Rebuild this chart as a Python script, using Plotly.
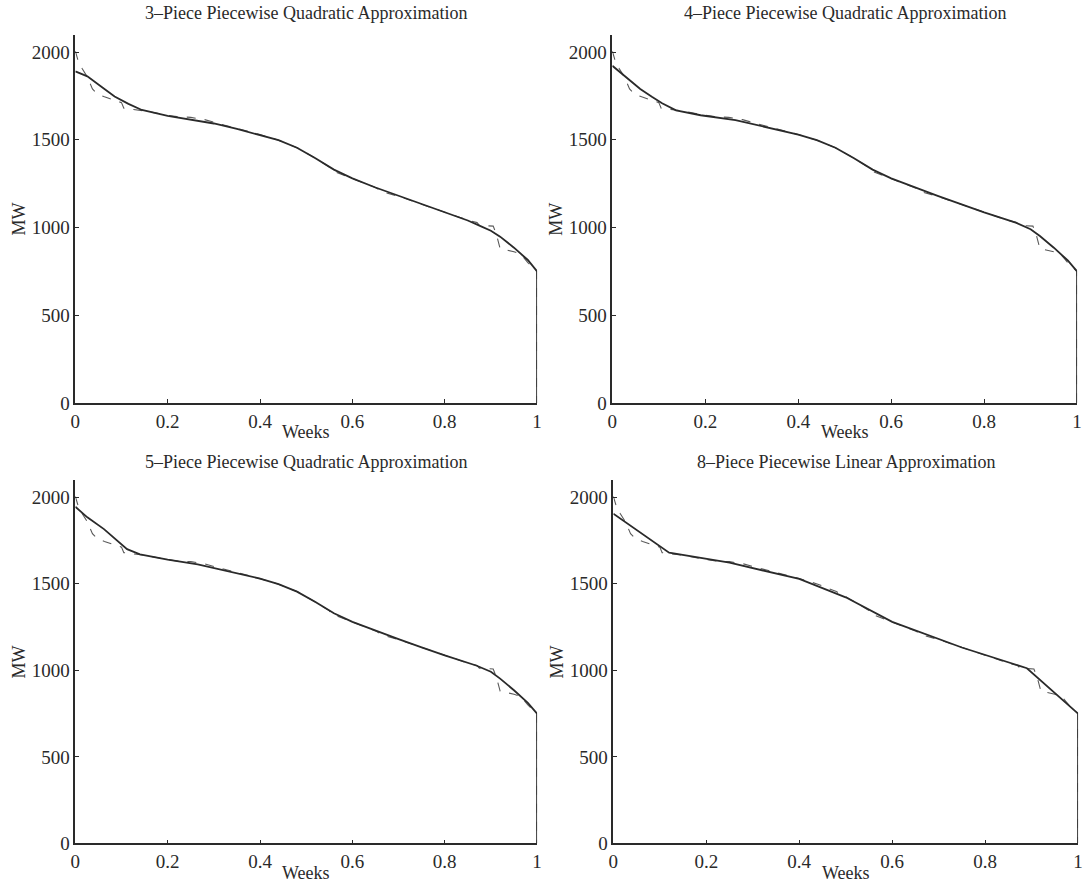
import plotly.graph_objects as go

# ---- data -------------------------------------------------------------
# actual load duration curve (dashed), x in weeks, y in MW
ldc_x = [0, 0.005, 0.015, 0.026, 0.037, 0.047, 0.063, 0.084, 0.1, 0.105, 0.12, 0.15,
         0.2, 0.22, 0.25, 0.28, 0.3, 0.35, 0.4, 0.44, 0.48, 0.52, 0.55, 0.555,
         0.6, 0.65, 0.66, 0.67, 0.7, 0.75, 0.8, 0.85, 0.87, 0.875, 0.905, 0.912,
         0.92, 0.95, 0.965, 0.98, 1.0, 1.0]
ldc_y = [2005, 1960, 1905, 1858, 1790, 1762, 1745, 1725, 1712, 1680, 1676, 1665,
         1640, 1632, 1628, 1615, 1600, 1566, 1530, 1498, 1455, 1395, 1345, 1325,
         1280, 1228, 1212, 1200, 1178, 1132, 1086, 1042, 1028, 1012, 1008, 960,
         880, 862, 848, 800, 750, 0]

# 3-piece piecewise quadratic approximation
q3_x = [0, 0.026, 0.055, 0.085, 0.115, 0.144, 0.2, 0.25, 0.3, 0.35, 0.4, 0.44, 0.48, 0.52,
        0.56, 0.6, 0.65, 0.7, 0.75, 0.8, 0.85, 0.88, 0.9, 0.92, 0.95, 0.98, 1.0, 1.0]
q3_y = [1890, 1862, 1805, 1747, 1705, 1670, 1636, 1615, 1593, 1562, 1528, 1498, 1455, 1395,
        1330, 1280, 1228, 1180, 1133, 1086, 1040, 1005, 982, 948, 885, 815, 750, 0]

# 4-piece piecewise quadratic approximation
q4_x = [0, 0.03, 0.06, 0.085, 0.107, 0.137, 0.19, 0.265, 0.35, 0.4, 0.44, 0.48, 0.52,
        0.56, 0.6, 0.65, 0.7, 0.75, 0.8, 0.868, 0.9, 0.92, 0.95, 0.98, 1.0, 1.0]
q4_y = [1922, 1858, 1790, 1745, 1708, 1668, 1640, 1612, 1562, 1530, 1498, 1455, 1395,
        1330, 1280, 1228, 1180, 1133, 1086, 1028, 990, 952, 885, 812, 750, 0]

# 5-piece piecewise quadratic approximation
q5_x = [0, 0.026, 0.062, 0.09, 0.112, 0.14, 0.2, 0.265, 0.35, 0.4, 0.44, 0.48, 0.52,
        0.56, 0.6, 0.65, 0.7, 0.75, 0.8, 0.868, 0.9, 0.92, 0.95, 0.98, 1.0, 1.0]
q5_y = [1945, 1884, 1816, 1750, 1700, 1670, 1640, 1612, 1562, 1530, 1498, 1455, 1395,
        1330, 1280, 1228, 1180, 1133, 1086, 1028, 992, 952, 885, 812, 750, 0]

# 8-piece piecewise linear approximation (knots)
l8_x = [0, 0.12, 0.25, 0.4, 0.5, 0.6, 0.75, 0.89, 1.0, 1.0]
l8_y = [1905, 1680, 1622, 1528, 1422, 1280, 1132, 1012, 750, 0]

titles = ["3\u2013Piece Piecewise Quadratic Approximation",
          "4\u2013Piece Piecewise Quadratic Approximation",
          "5\u2013Piece Piecewise Quadratic Approximation",
          "8\u2013Piece Piecewise Linear Approximation"]
approx = [(q3_x, q3_y), (q4_x, q4_y), (q5_x, q5_y), (l8_x, l8_y)]
x_ticks = [0, 0.2, 0.4, 0.6, 0.8, 1]
x_tick_text = ["0", "0.2", "0.4", "0.6", "0.8", "1"]
y_ticks = [0, 500, 1000, 1500, 2000]

# ---- layout -----------------------------------------------------------
W, H = 1089, 886
FONT = "Liberation Serif"
INK = "#2a2a2a"
# pixel boxes (left, right, top, bottom) for each panel
boxes = [(71, 537, 35, 408), (613, 1082, 35, 408),
         (71, 537, 486, 854), (614, 1083, 486, 854)]
title_y = [13, 13, 468, 468]
weeks_top = [425, 425, 872, 872]   # top edge of the "Weeks" label box

fig = go.Figure()
layout = dict(width=W, height=H, margin=dict(l=0, r=0, t=0, b=0),
              plot_bgcolor="white", paper_bgcolor="white", showlegend=False,
              font=dict(family=FONT, size=18, color=INK))
annotations = []
for i, (box, (ax, ay), title) in enumerate(zip(boxes, approx, titles)):
    n = "" if i == 0 else str(i + 1)
    xr = "x" + n
    yr = "y" + n
    fig.add_trace(go.Scatter(x=ldc_x, y=ldc_y, mode="lines", xaxis=xr, yaxis=yr,
                             line=dict(color="#5a5a5a", width=1.1, dash="dash"),
                             cliponaxis=False))
    fig.add_trace(go.Scatter(x=ax, y=ay, mode="lines", xaxis=xr, yaxis=yr,
                             line=dict(color=INK, width=1.8), cliponaxis=False))
    l, r, t, b = box
    common = dict(showline=True, linecolor=INK, linewidth=1.6, ticks="inside",
                  ticklen=4, tickcolor=INK, showgrid=False, zeroline=False,
                  tickfont=dict(family=FONT, size=19, color=INK))
    layout["xaxis" + n] = dict(domain=[l / W, r / W], range=[0, 1], anchor=yr,
                               tickvals=x_ticks, ticktext=x_tick_text, **common)
    layout["yaxis" + n] = dict(domain=[1 - b / H, 1 - t / H], range=[0, 2100], anchor=xr,
                               tickvals=y_ticks, **common)
    cx = (l + r) / 2
    annotations.append(dict(text=title, x=cx / W, y=1 - title_y[i] / H, xref="paper",
                            yref="paper", showarrow=False, xanchor="center",
                            yanchor="middle", font=dict(family=FONT, size=18, color=INK)))
    annotations.append(dict(text="Weeks", x=cx / W, y=1 - weeks_top[i] / H, xref="paper",
                            yref="paper", showarrow=False, xanchor="center",
                            yanchor="top", font=dict(family=FONT, size=18, color=INK)))
    annotations.append(dict(text="MW", x=(l - 57) / W, y=1 - (t + b) / 2 / H, xref="paper",
                            yref="paper", showarrow=False, textangle=-90,
                            xanchor="center", yanchor="middle",
                            font=dict(family=FONT, size=18, color=INK)))
layout["annotations"] = annotations
fig.update_layout(**layout)
fig.write_html("out.html", config={"displayModeBar": False},
               post_script="document.body.style.margin='0';document.body.style.overflow='hidden';")
